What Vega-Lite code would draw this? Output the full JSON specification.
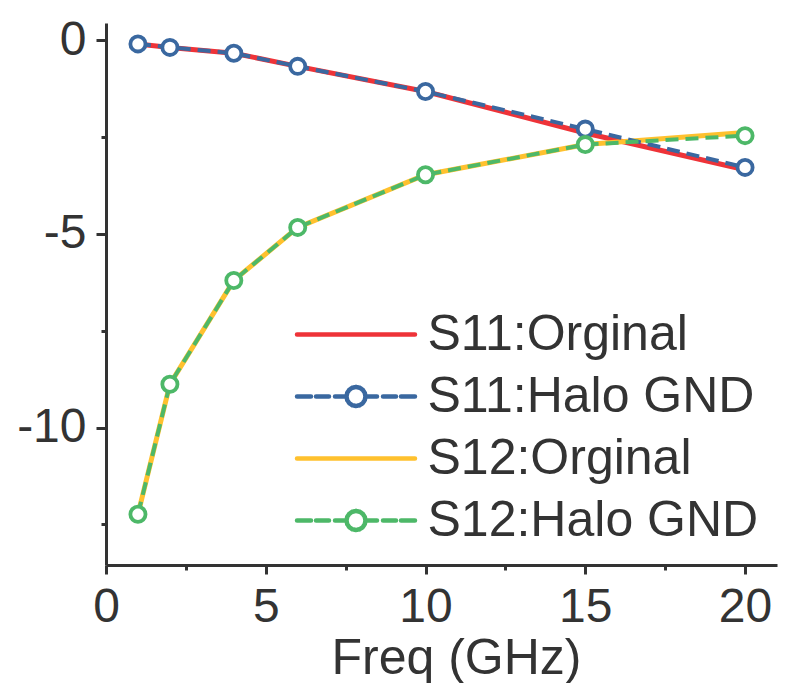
{
  "$schema": "https://vega.github.io/schema/vega-lite/v6.json",
  "width": 671,
  "height": 542,
  "autosize": {"type": "none"},
  "padding": {"left": 106, "top": 23, "right": 15, "bottom": 118},
  "background": "white",
  "config": {"view": {"stroke": null}, "font": "Liberation Sans"},
  "data": {
    "values": [
      {"freq": 1, "db": -0.09, "series": "S11:Orginal"},
      {"freq": 2, "db": -0.18, "series": "S11:Orginal"},
      {"freq": 4, "db": -0.33, "series": "S11:Orginal"},
      {"freq": 6, "db": -0.67, "series": "S11:Orginal"},
      {"freq": 10, "db": -1.32, "series": "S11:Orginal"},
      {"freq": 15, "db": -2.39, "series": "S11:Orginal"},
      {"freq": 20, "db": -3.34, "series": "S11:Orginal"},
      {"freq": 1, "db": -0.09, "series": "S11:Halo GND"},
      {"freq": 2, "db": -0.18, "series": "S11:Halo GND"},
      {"freq": 4, "db": -0.33, "series": "S11:Halo GND"},
      {"freq": 6, "db": -0.67, "series": "S11:Halo GND"},
      {"freq": 10, "db": -1.32, "series": "S11:Halo GND"},
      {"freq": 15, "db": -2.29, "series": "S11:Halo GND"},
      {"freq": 20, "db": -3.28, "series": "S11:Halo GND"},
      {"freq": 1, "db": -12.24, "series": "S12:Orginal"},
      {"freq": 2, "db": -8.88, "series": "S12:Orginal"},
      {"freq": 4, "db": -6.2, "series": "S12:Orginal"},
      {"freq": 6, "db": -4.83, "series": "S12:Orginal"},
      {"freq": 10, "db": -3.47, "series": "S12:Orginal"},
      {"freq": 15, "db": -2.69, "series": "S12:Orginal"},
      {"freq": 20, "db": -2.38, "series": "S12:Orginal"},
      {"freq": 1, "db": -12.24, "series": "S12:Halo GND"},
      {"freq": 2, "db": -8.88, "series": "S12:Halo GND"},
      {"freq": 4, "db": -6.2, "series": "S12:Halo GND"},
      {"freq": 6, "db": -4.83, "series": "S12:Halo GND"},
      {"freq": 10, "db": -3.47, "series": "S12:Halo GND"},
      {"freq": 15, "db": -2.69, "series": "S12:Halo GND"},
      {"freq": 20, "db": -2.46, "series": "S12:Halo GND"}
    ]
  },
  "encoding": {
    "x": {
      "field": "freq",
      "type": "quantitative",
      "scale": {"domain": [0, 21], "nice": false, "zero": false},
      "axis": {
        "values": [0, 2.5, 5, 7.5, 10, 12.5, 15, 17.5, 20],
        "labelExpr": "datum.value % 5 === 0 ? '' + datum.value : ''",
        "grid": false,
        "domainColor": "#333333",
        "domainWidth": 3,
        "tickColor": "#333333",
        "tickWidth": 3,
        "tickSize": {"condition": {"test": "datum.value % 5 === 0", "value": 9}, "value": 5},
        "labelFontSize": 48,
        "labelFont": "Liberation Sans",
        "labelColor": "#333333",
        "labelBaseline": "alphabetic",
        "labelPadding": 47,
        "labelFlush": false,
        "labelOverlap": false,
        "title": "Freq (GHz)",
        "titleFont": "Liberation Sans",
        "titleFontSize": 50,
        "titleFontWeight": "normal",
        "titleColor": "#333333",
        "titleX": 350,
        "titleY": 108,
        "titleAlign": "center",
        "titleBaseline": "alphabetic"
      }
    },
    "y": {
      "field": "db",
      "type": "quantitative",
      "scale": {"domain": [-13.55, 0.45], "nice": false, "zero": false},
      "axis": {
        "values": [0, -2.5, -5, -7.5, -10, -12.5],
        "labelExpr": "datum.value % 5 === 0 ? '' + datum.value : ''",
        "title": null,
        "grid": false,
        "domainColor": "#333333",
        "domainWidth": 3,
        "tickColor": "#333333",
        "tickWidth": 3,
        "tickSize": {"condition": {"test": "datum.value % 5 === 0", "value": 10}, "value": 5},
        "labelFontSize": 48,
        "labelFont": "Liberation Sans",
        "labelColor": "#333333",
        "labelPadding": 10,
        "labelBaseline": "middle",
        "labelFlush": false,
        "labelOverlap": false
      }
    },
    "color": {
      "field": "series",
      "type": "nominal",
      "scale": {
        "domain": ["S11:Orginal", "S11:Halo GND", "S12:Orginal", "S12:Halo GND"],
        "range": ["#EE3338", "#3A68A0", "#FFC12E", "#4DB868"]
      },
      "legend": {
        "title": null,
        "orient": "none",
        "legendX": 222.5,
        "legendY": 284,
        "padding": 0,
        "symbolSize": 2500,
        "symbolStrokeWidth": 4.5,
        "labelFontSize": 50,
        "labelFont": "Liberation Sans",
        "labelColor": "#333333",
        "labelOffset": 44,
        "labelLimit": 600,
        "rowPadding": 9,
        "encode": {
          "symbols": {
            "update": {
              "shape": {"signal": "indexof(datum.value,'Halo')>=0 ? 'M-2.36,0H-1.8M-1.6,0H-1.08M-0.84,0H-0.38M0.38,0H0.84M1.08,0H1.6M1.8,0H2.36M0.38,0L0.351,0.145L0.269,0.269L0.145,0.351L0,0.38L-0.145,0.351L-0.269,0.269L-0.351,0.145L-0.38,0L-0.351,-0.145L-0.269,-0.269L-0.145,-0.351L0,-0.38L0.145,-0.351L0.269,-0.269L0.351,-0.145Z' : 'M-2.36,0H2.36'"},
              "fill": {"value": "white"},
              "stroke": {"scale": "color", "field": "value"},
              "strokeDash": {"value": [1, 0]},
              "opacity": {"value": 1},
              "strokeCap": {"value": "round"}
            }
          }
        }
      }
    }
  },
  "layer": [
    {
      "transform": [{"filter": "indexof(datum.series,'Halo')<0"}],
      "mark": {"type": "line", "strokeWidth": 5}
    },
    {
      "transform": [{"filter": "indexof(datum.series,'Halo')>=0"}],
      "mark": {"type": "line", "strokeWidth": 4, "strokeDash": [13, 7]}
    },
    {
      "transform": [{"filter": "indexof(datum.series,'Halo')>=0"}],
      "mark": {"type": "point", "filled": false, "fill": "white", "size": 230, "strokeWidth": 3.8, "opacity": 1}
    }
  ]
}
